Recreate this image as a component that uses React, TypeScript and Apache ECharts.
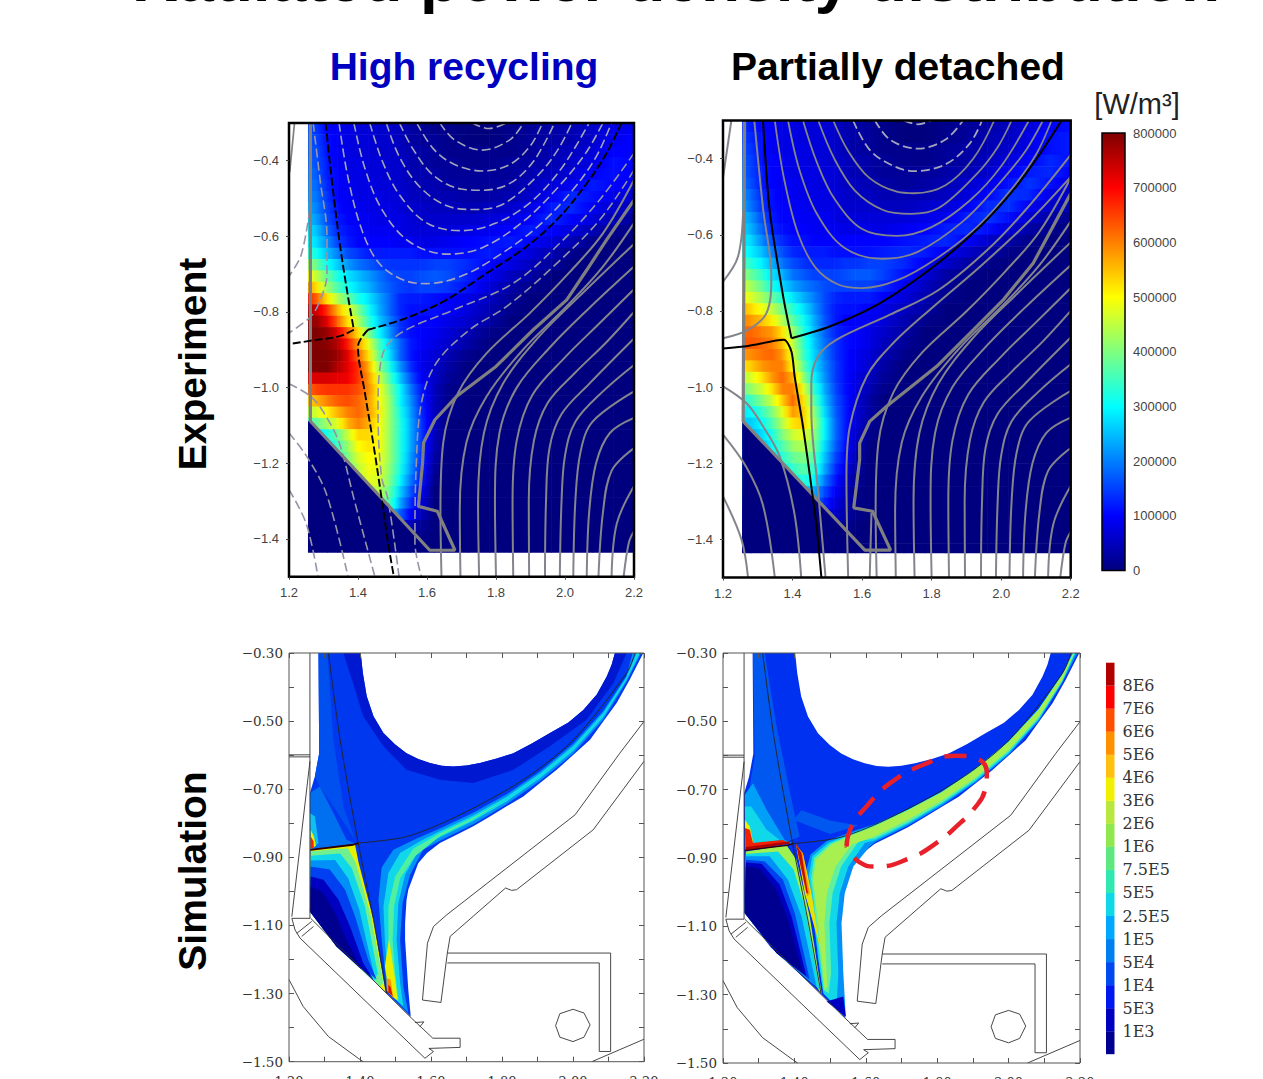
import React, { useEffect, useRef } from "react";
import * as echarts from "echarts";

type P = [number, number];
const Pn = (a: number[]): P[] => { const o: P[] = []; for (let i = 0; i < a.length; i += 2) o.push([a[i], a[i + 1]]); return o; };

// ---------- experiment heat maps (unit: 10 kW/m3) ----------
const expX = [1.255,1.28,1.31,1.34,1.37,1.40,1.43,1.46,1.49,1.52,1.55,1.58,1.62,1.66,1.72,1.78,1.84,1.90,1.96,2.02,2.08,2.14,2.2];
const expRowTops = [-0.30,-0.33,-0.36,-0.39,-0.42,-0.45,-0.48,-0.51,-0.54,-0.57,-0.60,-0.63,-0.66,-0.69,-0.72,-0.75,-0.78,-0.81,-0.84,-0.87,-0.90,-0.93,-0.96,-0.99,-1.02,-1.05,-1.08,-1.11,-1.14,-1.17,-1.20,-1.23,-1.26,-1.29,-1.32,-1.35,-1.38,-1.41];
const expHighRows = [
[16,14,10,9,8,7,7,6,6,5,3,2,1,1,0,0,1,2,3,4,6,8,9],
[17,15,11,9,8,7,7,6,6,5,3,2,2,1,0,0,1,2,3,4,6,9,10],
[17,16,11,9,8,7,7,6,6,5,4,3,2,1,1,1,1,2,4,5,7,10,10],
[18,16,12,9,8,8,7,7,6,6,4,3,2,2,1,1,2,3,4,6,8,11,10],
[19,17,12,10,8,8,7,7,6,6,4,4,3,2,2,2,2,4,5,7,10,11,9],
[20,18,13,10,9,8,8,7,7,6,5,4,4,3,2,2,3,5,7,9,12,10,8],
[21,19,14,10,9,8,8,8,7,7,5,5,4,4,3,3,4,6,9,13,11,8,6],
[23,20,15,11,9,9,8,8,8,7,6,6,5,5,4,5,6,8,12,13,9,6,4],
[25,22,16,12,10,9,9,8,8,8,7,6,6,6,6,7,8,10,13,10,7,4,2],
[28,25,18,13,11,10,9,9,9,8,7,7,7,7,8,9,10,12,10,7,4,1,1],
[30,27,21,15,12,10,10,10,10,9,9,8,8,9,10,11,12,10,7,4,1],
[34,31,25,20,16,14,12,12,12,12,12,11,11,11,11,12,10,7,4,1],
[42,38,31,26,22,19,17,15,14,14,14,14,15,15,13,10,8,5,2],
[50,45,38,32,28,25,22,19,16,15,15,16,17,16,12,9,5,3],
[58,52,42,36,31,27,24,20,17,15,14,15,15,14,11,7,3,1],
[68,62,52,44,38,32,28,23,18,13,12,12,11,10,8,5,2],
[76,74,66,56,48,40,31,24,18,13,11,11,11,10,7,4,1],
[78,78,72,62,52,44,34,26,20,14,11,10,10,8,6,3],
[80,80,78,72,62,52,40,30,22,14,11,10,9,7,4,1],
[79,80,79,76,68,58,48,36,26,18,12,10,8,6,3],
[80,80,80,78,72,62,52,38,28,18,12,9,7,4,1],
[80,80,80,76,72,66,56,42,32,22,14,9,6,3],
[72,73,73,72,71,66,58,47,36,26,17,10,6,2],
[62,65,66,66,66,64,59,50,40,30,20,12,5,1],
[54,56,60,63,64,62,58,50,42,30,22,13,5,1],
[44,47,51,56,60,62,58,51,42,32,23,14,5,1],
[36,38,43,48,56,60,56,50,42,33,24,15,5],
[27,27,32,38,46,53,53,50,42,33,24,15,5],
[28,28,28,35,42,50,52,50,42,33,24,15,4],
[33,33,33,33,40,47,50,49,42,33,23,14,3],
[38,38,38,38,38,45,49,48,41,32,22,13,2],
[44,44,44,44,44,44,48,47,40,30,20,12,1],
[44,44,44,44,44,44,44,45,38,27,17,10],
[42,42,42,42,42,42,42,42,36,24,14,8],
[28,28,28,28,28,28,28,28,28,18,10,5],
[8,8,8,8,8,8,8,8,8,8,5,2],
[0,0,0,0,0,0,0,0,0,0,2,1],
[],
];
const expDetachedRows = [
[14,12,10,9,8,8,7,7,7,6,4,3,2,1,0,0,1,2,3,5,7,10,11],
[15,13,11,9,8,8,7,7,7,6,4,3,2,1,0,0,1,2,4,5,8,11,12],
[16,14,11,9,8,8,8,7,7,6,4,3,2,1,1,1,2,3,4,6,8,11,12],
[17,15,11,10,9,8,8,7,7,6,5,4,3,2,1,1,2,3,5,7,10,13,11],
[18,15,12,10,9,8,8,8,7,7,5,4,3,2,2,2,3,4,6,9,12,13,9],
[19,16,12,10,9,9,8,8,7,7,5,5,4,3,2,3,4,6,8,11,14,11,7],
[21,18,13,11,9,9,8,8,8,7,6,5,5,4,4,4,5,7,10,14,13,8,5],
[23,19,14,11,10,9,9,8,8,8,6,6,6,5,5,6,7,9,13,14,9,6,3],
[25,22,16,12,10,10,9,9,9,8,7,7,7,7,7,8,9,12,14,11,6,3,1],
[27,24,18,13,11,10,10,9,9,9,8,8,8,8,9,10,12,13,11,7,3,1],
[29,27,21,16,13,11,11,10,10,10,10,10,10,10,11,12,13,10,6,3,1],
[31,29,25,20,16,13,12,12,12,11,11,11,11,12,13,12,9,6,3,1],
[36,33,29,24,19,16,14,13,13,13,14,14,15,15,13,9,6,3,1],
[42,38,34,28,24,19,17,15,15,15,16,17,17,15,11,7,3,1],
[46,43,38,32,27,23,20,18,16,15,15,15,15,13,9,5,2],
[50,47,43,38,33,28,24,20,16,13,12,12,12,10,7,4,1],
[56,53,49,45,39,33,28,22,16,12,11,11,10,8,5,3],
[60,58,55,51,44,37,31,24,17,12,10,10,9,7,4,1],
[62,62,60,58,52,42,33,25,18,13,11,10,8,6,3],
[63,63,62,60,55,45,34,26,19,14,11,10,8,5,2],
[58,59,61,62,58,47,35,27,20,14,11,9,7,4,1],
[52,54,58,60,60,50,38,28,21,15,11,9,6,3],
[44,47,52,58,62,56,42,30,22,15,11,8,5,2],
[38,42,46,52,60,60,48,34,24,16,11,8,4,1],
[32,35,40,46,54,62,52,38,26,17,12,7,3],
[28,30,34,40,48,58,54,42,28,18,12,7,3],
[26,26,30,36,44,52,54,44,30,19,12,7,2],
[24,24,27,32,40,46,48,42,30,19,12,6,1],
[24,24,24,30,36,42,44,40,28,18,11,5],
[27,27,27,27,33,38,40,37,26,16,10,4],
[30,30,30,30,30,34,37,34,24,14,8,3],
[30,30,30,30,30,30,33,30,20,12,6,2],
[25,25,25,25,25,25,25,24,16,10,5,1],
[20,20,20,20,20,20,20,20,13,8,4,1],
[10,10,10,10,10,10,10,10,10,6,3,1],
[4,4,4,4,4,4,4,4,4,4,2],
[],
[],
];
const jetStops = ["#00007f","#0000ff","#007fff","#00ffff","#7fff7f","#ffff00","#ff7f00","#ff0000","#7f0000"];
const highFloor = [1.255,-1.089,1.262,-1.089,1.608,-1.43,1.608,-1.435,1.255,-1.435];
const detFloor = [1.255,-1.09,1.258,-1.09,1.608,-1.428,1.608,-1.435,1.255,-1.435];

// ---------- flux contours, shared lower-right family ----------
const lowerCurves: number[][] = [
[1.642,-1.5,1.639,-1.323,1.647,-1.146,1.69,-1.014,1.773,-0.909,1.898,-0.803,2.01,-0.698,2.11,-0.592,2.2,-0.451],
[1.697,-1.5,1.695,-1.323,1.714,-1.146,1.773,-1.023,1.879,-0.899,2.005,-0.785,2.11,-0.68,2.2,-0.565],
[1.751,-1.5,1.748,-1.3,1.765,-1.12,1.82,-0.99,1.92,-0.87,2.04,-0.76,2.2,-0.62],
[1.8,-1.5,1.797,-1.3,1.81,-1.12,1.86,-1.0,1.96,-0.89,2.07,-0.79,2.2,-0.68],
[1.85,-1.5,1.848,-1.3,1.86,-1.14,1.905,-1.02,2.0,-0.92,2.1,-0.83,2.2,-0.74],
[1.896,-1.5,1.895,-1.3,1.91,-1.14,1.95,-1.04,2.03,-0.96,2.12,-0.88,2.2,-0.80],
[1.942,-1.5,1.945,-1.3,1.955,-1.16,1.99,-1.07,2.07,-0.99,2.2,-0.87],
[1.985,-1.5,1.99,-1.3,2.0,-1.18,2.03,-1.09,2.11,-1.01,2.2,-0.94],
[2.024,-1.5,2.03,-1.3,2.045,-1.17,2.08,-1.09,2.2,-1.01],
[2.063,-1.5,2.07,-1.33,2.09,-1.2,2.13,-1.12,2.2,-1.08],
[2.097,-1.5,2.11,-1.33,2.135,-1.22,2.2,-1.16],
[2.135,-1.5,2.15,-1.36,2.2,-1.26],
[2.17,-1.5,2.185,-1.41,2.2,-1.38],
];
// panel A (high recycling)
const highU: number[][] = [
[1.73,-0.3,1.78,-0.315,1.83,-0.3],
[1.637,-0.3,1.68,-0.345,1.76,-0.372,1.84,-0.345,1.88,-0.3],
[1.57,-0.3,1.62,-0.37,1.68,-0.41,1.76,-0.427,1.84,-0.41,1.90,-0.36,1.935,-0.3],
[1.52,-0.3,1.56,-0.37,1.62,-0.44,1.70,-0.475,1.76,-0.478,1.84,-0.46,1.91,-0.40,1.97,-0.30],
[1.482,-0.3,1.52,-0.39,1.58,-0.47,1.66,-0.52,1.74,-0.529,1.82,-0.515,1.92,-0.44,1.98,-0.37,2.02,-0.3],
[1.434,-0.3,1.47,-0.40,1.52,-0.49,1.60,-0.565,1.70,-0.585,1.80,-0.565,1.90,-0.51,1.99,-0.42,2.07,-0.3],
[1.388,-0.3,1.42,-0.42,1.47,-0.53,1.55,-0.615,1.66,-0.647,1.76,-0.63,1.88,-0.56,1.98,-0.47,2.06,-0.38,2.11,-0.3],
[1.345,-0.3,1.37,-0.44,1.41,-0.58,1.46,-0.67,1.53,-0.715,1.6,-0.725,1.70,-0.705,1.80,-0.655,1.92,-0.575,2.02,-0.48,2.09,-0.39,2.135,-0.3],
];
const highOuter: number[][] = [
[1.27,-0.3,1.29,-0.45,1.31,-0.6,1.31,-0.70,1.285,-0.78,1.26,-0.815,1.2,-0.855],
[1.26,-0.53,1.235,-0.65,1.2,-0.705],
[1.2,-0.99,1.265,-1.025,1.31,-1.08,1.347,-1.15,1.39,-1.3,1.449,-1.5],
[1.2,-1.12,1.25,-1.18,1.308,-1.28,1.371,-1.5],
[1.2,-1.27,1.25,-1.36,1.284,-1.5],
[2.2,-0.38,2.1,-0.504,1.985,-0.618,1.85,-0.724,1.676,-0.795,1.54,-0.847,1.482,-0.891,1.463,-0.953,1.458,-1.059,1.468,-1.235,1.487,-1.296,1.519,-1.5],
[2.2,-0.425,2.1,-0.557,1.966,-0.68,1.83,-0.786,1.724,-0.847,1.627,-0.935,1.584,-1.04,1.569,-1.2,1.565,-1.41,1.584,-1.5],
];
const highTopLeft = [1.216,-0.3,1.202,-0.43];
const highSep: number[][] = [
[1.306,-0.3,1.323,-0.442,1.347,-0.618,1.371,-0.759,1.388,-0.847],
[1.388,-0.847,1.347,-0.864,1.27,-0.875,1.2,-0.885],
[1.429,-0.847,1.4,-0.891,1.42,-1.014,1.444,-1.146,1.468,-1.29,1.487,-1.41,1.504,-1.5],
[1.429,-0.847,1.54,-0.816,1.656,-0.768,1.772,-0.698,1.889,-0.627,1.985,-0.548,2.063,-0.46,2.12,-0.381,2.164,-0.3],
];
const highWall = [2.2,-0.504,2.12,-0.61,2.063,-0.689,2.005,-0.768,1.908,-0.847,1.8,-0.944,1.686,-1.023,1.623,-1.085,1.59,-1.146,1.587,-1.2,1.575,-1.314,1.63,-1.327,1.681,-1.43,1.608,-1.43,1.262,-1.089,1.262,-0.3];
// panel B (partially detached)
const detU: number[][] = [
[1.72,-0.3,1.76,-0.31,1.8,-0.3],
[1.637,-0.3,1.68,-0.35,1.76,-0.374,1.84,-0.35,1.89,-0.3],
[1.574,-0.3,1.62,-0.375,1.68,-0.415,1.75,-0.433,1.84,-0.415,1.91,-0.36,1.945,-0.3],
[1.517,-0.3,1.56,-0.38,1.62,-0.45,1.70,-0.487,1.75,-0.491,1.84,-0.47,1.92,-0.40,1.98,-0.30],
[1.474,-0.3,1.52,-0.40,1.58,-0.485,1.66,-0.535,1.74,-0.545,1.82,-0.53,1.93,-0.44,1.99,-0.37,2.03,-0.3],
[1.43,-0.3,1.47,-0.41,1.52,-0.505,1.60,-0.585,1.70,-0.603,1.80,-0.58,1.91,-0.51,2.0,-0.42,2.08,-0.3],
[1.387,-0.3,1.42,-0.43,1.47,-0.545,1.55,-0.635,1.66,-0.663,1.76,-0.645,1.89,-0.565,1.99,-0.47,2.07,-0.38,2.12,-0.3],
[1.349,-0.3,1.375,-0.45,1.415,-0.595,1.465,-0.685,1.53,-0.73,1.6,-0.74,1.70,-0.72,1.81,-0.665,1.93,-0.58,2.03,-0.48,2.10,-0.39,2.145,-0.3],
];
const detOuter: number[][] = [
[1.29,-0.3,1.315,-0.53,1.339,-0.71,1.325,-0.806,1.272,-0.85,1.2,-0.872],
[1.224,-0.3,1.2,-0.45],
[1.258,-0.535,1.243,-0.658,1.2,-0.723],
[1.2,-0.998,1.267,-1.042,1.315,-1.103,1.363,-1.182,1.405,-1.33,1.425,-1.5],
[1.2,-1.125,1.267,-1.21,1.315,-1.31,1.349,-1.5],
[1.2,-1.287,1.253,-1.4,1.272,-1.5],
[2.2,-0.39,2.07,-0.535,1.96,-0.64,1.82,-0.745,1.68,-0.81,1.526,-0.876,1.473,-0.92,1.454,-0.99,1.454,-1.06,1.474,-1.278,1.495,-1.5],
[2.2,-0.448,2.083,-0.562,1.939,-0.684,1.805,-0.789,1.689,-0.885,1.613,-0.972,1.565,-1.103,1.555,-1.234,1.56,-1.5],
[1.627,-1.33,1.622,-1.5],
];
const detSep: number[][] = [
[1.315,-0.3,1.334,-0.535,1.373,-0.762,1.397,-0.872],
[1.397,-0.872,1.507,-0.841,1.651,-0.78,1.805,-0.684,1.939,-0.579,2.035,-0.483,2.112,-0.387,2.174,-0.3],
[1.2,-0.899,1.272,-0.892,1.375,-0.876,1.397,-0.907,1.406,-0.972,1.43,-1.103,1.454,-1.26,1.469,-1.365,1.483,-1.5],
];
const detWall = [2.2,-0.492,2.092,-0.675,2.006,-0.771,1.92,-0.85,1.814,-0.946,1.67,-1.051,1.622,-1.09,1.593,-1.147,1.593,-1.19,1.576,-1.317,1.63,-1.326,1.682,-1.428,1.608,-1.428,1.258,-1.09,1.262,-0.3];

// ---------- simulation: machine outline, separatrix, filled bands ----------
const simWalls: number[][] = [
[1.259,-0.3,1.259,-1.079],
[1.2,-0.599,1.259,-0.599],[1.2,-0.605,1.259,-0.605],
[1.259,-0.618,1.208,-1.074],
[1.208,-1.079,1.259,-1.079],
[1.208,-1.079,1.217,-1.113,1.231,-1.137,1.583,-1.49,1.607,-1.47,1.594,-1.461,1.682,-1.458,1.682,-1.431,1.605,-1.431,1.541,-1.368,1.261,-1.079],
[1.222,-1.123,1.264,-1.088],[1.236,-1.132,1.269,-1.103],
[2.2,-0.501,2.132,-0.594,2.006,-0.775,1.644,-1.069,1.607,-1.103,1.59,-1.152,1.576,-1.319,1.628,-1.326,1.646,-1.181,1.654,-1.132,1.81,-0.99,1.827,-0.997,1.841,-0.995,2.057,-0.819,2.2,-0.618],
[1.646,-1.181,2.106,-1.181,2.106,-1.47,2.074,-1.47,2.074,-1.21,1.646,-1.21],
[2.0,-1.346,2.031,-1.357,2.048,-1.392,2.031,-1.428,2.0,-1.441,1.963,-1.428,1.951,-1.394,1.963,-1.359,2.0,-1.346],
[1.2,-1.259,1.24,-1.338,1.311,-1.426,1.395,-1.49,1.409,-1.5],
[2.053,-1.5,2.2,-1.434],
[1.555,-1.385,1.58,-1.383,1.569,-1.397],
];
const simSep: number[][] = [
[1.311,-0.3,1.344,-0.555,1.395,-0.858,1.438,-1.083,1.475,-1.299],
[1.395,-0.858,1.531,-0.839,1.672,-0.78,1.86,-0.672,2.001,-0.555,2.151,-0.359,2.175,-0.3],
];
const simSepLeft = [1.261,-0.878,1.381,-0.863,1.395,-0.858];
const simOutline = [1.283,-0.3,1.402,-0.3,1.408,-0.359,1.419,-0.427,1.438,-0.486,1.466,-0.535,1.499,-0.569,1.531,-0.594,1.564,-0.611,1.597,-0.623,1.63,-0.631,1.663,-0.633,1.70,-0.63,1.738,-0.623,1.785,-0.61,1.832,-0.594,1.884,-0.566,1.935,-0.535,1.987,-0.504,2.029,-0.467,2.067,-0.422,2.095,-0.369,2.109,-0.334,2.118,-0.3,2.198,-0.3,2.16,-0.378,2.123,-0.447,2.085,-0.501,2.048,-0.555,2.001,-0.599,1.954,-0.643,1.907,-0.682,1.86,-0.721,1.813,-0.75,1.766,-0.78,1.719,-0.809,1.672,-0.834,1.625,-0.858,1.588,-0.888,1.564,-0.917,1.55,-0.956,1.536,-0.995,1.531,-1.025,1.527,-1.093,1.527,-1.142,1.536,-1.289,1.543,-1.368,1.456,-1.279,1.334,-1.162,1.259,-1.059,1.259,-0.711,1.273,-0.662,1.285,-0.594];
const dz = [1.334,-1.162,1.259,-1.059];
const simHighBands: [string, number[]][] = [
["#0038f0", simOutline],
["#0018d0", [1.402,-0.3,1.408,-0.359,1.419,-0.427,1.438,-0.486,1.466,-0.535,1.499,-0.569,1.531,-0.594,1.564,-0.611,1.597,-0.623,1.63,-0.631,1.663,-0.633,1.70,-0.63,1.738,-0.623,1.785,-0.61,1.832,-0.594,1.884,-0.566,1.935,-0.535,1.987,-0.504,2.029,-0.467,2.067,-0.422,2.095,-0.369,2.109,-0.334,2.118,-0.3,2.151,-0.3,2.114,-0.388,2.038,-0.496,1.935,-0.574,1.832,-0.643,1.719,-0.682,1.625,-0.672,1.531,-0.643,1.466,-0.574,1.409,-0.486,1.377,-0.378,1.353,-0.3]],
["#0050f0", [1.283,-0.3,1.308,-0.3,1.325,-0.555,1.353,-0.75,1.386,-0.848,1.325,-0.75,1.287,-0.692,1.273,-0.662,1.285,-0.594]],
["#0070f0", [1.259,-0.711,1.287,-0.692,1.325,-0.77,1.362,-0.848,1.386,-0.86,1.261,-0.876]],
["#10c0f0", [1.259,-0.77,1.273,-0.78,1.283,-0.858,1.261,-0.876]],
["#f0f000", [1.261,-0.819,1.27,-0.838,1.276,-0.866,1.261,-0.876]],
["#ff2000", [1.261,-0.838,1.269,-0.853,1.27,-0.87,1.261,-0.876]],
["#0090f8", [2.168,-0.3,2.15,-0.368,2.085,-0.47,2.0,-0.567,1.907,-0.648,1.813,-0.715,1.719,-0.769,1.625,-0.815,1.56,-0.845,1.494,-0.878,1.461,-0.93,1.452,-1.024,1.461,-1.142,1.475,-1.279,1.496,-1.313,1.536,-1.357,1.522,-1.279,1.513,-1.142,1.52,-1.034,1.541,-0.951,1.578,-0.878,1.625,-0.851,1.719,-0.803,1.813,-0.744,1.907,-0.676,2.0,-0.596,2.085,-0.496,2.15,-0.386,2.192,-0.3]],
["#10d8e8", [2.179,-0.3,2.15,-0.372,2.085,-0.476,2.0,-0.574,1.907,-0.654,1.813,-0.722,1.719,-0.777,1.625,-0.823,1.574,-0.85,1.513,-0.887,1.48,-0.946,1.466,-1.044,1.47,-1.142,1.48,-1.279,1.496,-1.313,1.522,-1.338,1.513,-1.269,1.503,-1.142,1.508,-1.034,1.527,-0.951,1.569,-0.873,1.625,-0.841,1.719,-0.793,1.813,-0.736,1.907,-0.668,2.0,-0.588,2.085,-0.489,2.15,-0.381,2.189,-0.3]],
["#50f0a0", [1.813,-0.729,1.719,-0.783,1.625,-0.829,1.55,-0.875,1.499,-0.956,1.48,-1.044,1.48,-1.142,1.485,-1.279,1.496,-1.313,1.508,-1.318,1.499,-1.24,1.492,-1.142,1.496,-1.044,1.513,-0.961,1.555,-0.897,1.625,-0.838,1.719,-0.789]],
["#e8f000", [1.47,-1.22,1.482,-1.299,1.496,-1.313,1.506,-1.32,1.499,-1.259,1.489,-1.19,1.482,-1.14]],
["#ff9000", [1.475,-1.255,1.486,-1.259,1.494,-1.313,1.475,-1.291]],
["#d81000", [1.48,-1.274,1.486,-1.281,1.492,-1.308,1.48,-1.296]],
["#e8f000", [1.261,-0.878,1.386,-0.863,1.396,-0.915,1.438,-1.083,1.472,-1.295,1.456,-1.279,...dz]],
["#70f090", [1.261,-0.882,1.366,-0.873,1.388,-0.915,1.431,-1.073,1.466,-1.269,1.456,-1.279,...dz]],
["#10d8e8", [1.261,-0.895,1.344,-0.889,1.377,-0.932,1.414,-1.044,1.45,-1.24,1.44,-1.264,...dz]],
["#0090f8", [1.261,-0.909,1.33,-0.908,1.367,-0.962,1.398,-1.054,1.44,-1.245,...dz]],
["#0040f0", [1.261,-0.927,1.315,-0.936,1.358,-0.995,1.386,-1.073,1.423,-1.201,1.447,-1.259,...dz]],
["#0000c0", [1.261,-0.956,1.297,-0.966,1.339,-1.024,1.372,-1.103,1.409,-1.21,1.438,-1.259,...dz]],
["#000090", [1.261,-0.985,1.297,-1.005,1.33,-1.064,1.362,-1.142,1.405,-1.23,...dz]],
];
const dd = [1.35,-1.178,1.261,-1.061];
const simDetBands: [string, number[]][] = [
["#0030f0", simOutline],
["#0058f0", [1.284,-0.3,1.317,-0.3,1.35,-0.515,1.396,-0.749,1.415,-0.837,1.373,-0.856,1.322,-0.768,1.275,-0.69,1.289,-0.603]],
["#0058f0", [1.396,-0.788,1.5,-0.83,1.58,-0.805,1.5,-0.79,1.42,-0.76]],
["#00a0f8", [1.261,-0.715,1.284,-0.681,1.322,-0.759,1.373,-0.847,1.396,-0.856,1.264,-0.876]],
["#10d8e8", [1.261,-0.749,1.279,-0.749,1.322,-0.817,1.359,-0.847,1.264,-0.876]],
["#e8f000", [1.261,-0.788,1.275,-0.808,1.284,-0.851,1.264,-0.876]],
["#f02000", [1.261,-0.812,1.275,-0.817,1.284,-0.856,1.368,-0.847,1.378,-0.854,1.264,-0.876]],
["#b00000", [1.264,-0.868,1.387,-0.851,1.387,-0.858,1.264,-0.878]],
["#0090f8", [2.178,-0.3,2.15,-0.362,2.085,-0.462,2.0,-0.558,1.907,-0.638,1.813,-0.705,1.719,-0.757,1.625,-0.801,1.574,-0.818,1.49,-0.85,1.445,-0.89,1.43,-0.95,1.443,-1.003,1.466,-1.188,1.481,-1.296,1.544,-1.364,1.537,-1.237,1.532,-1.091,1.541,-1.003,1.565,-0.925,1.611,-0.866,1.625,-0.854,1.719,-0.805,1.813,-0.747,1.907,-0.679,2.0,-0.598,2.085,-0.498,2.15,-0.388,2.193,-0.3]],
["#10d8e8", [2.18,-0.3,2.15,-0.363,2.085,-0.463,2.0,-0.559,1.907,-0.639,1.813,-0.706,1.719,-0.758,1.625,-0.803,1.574,-0.822,1.495,-0.855,1.45,-0.895,1.44,-0.955,1.448,-1.003,1.466,-1.188,1.481,-1.296,1.518,-1.335,1.523,-1.237,1.518,-1.091,1.527,-1.003,1.551,-0.925,1.597,-0.856,1.625,-0.849,1.719,-0.80,1.813,-0.742,1.907,-0.675,2.0,-0.594,2.085,-0.494,2.15,-0.385,2.188,-0.3]],
["#60f0a0", [2.181,-0.3,2.15,-0.364,2.085,-0.464,2.0,-0.56,1.907,-0.64,1.813,-0.707,1.719,-0.759,1.625,-0.805,1.574,-0.825,1.5,-0.858,1.455,-0.9,1.447,-0.96,1.452,-1.003,1.471,-1.188,1.482,-1.286,1.496,-1.296,1.503,-1.237,1.498,-1.091,1.507,-1.003,1.531,-0.925,1.58,-0.851,1.625,-0.843,1.719,-0.795,1.813,-0.738,1.907,-0.67,2.0,-0.589,2.085,-0.49,2.15,-0.382,2.185,-0.3]],
["#a8f050", [2.182,-0.3,2.15,-0.365,2.085,-0.465,2.0,-0.561,1.907,-0.641,1.813,-0.708,1.719,-0.76,1.625,-0.807,1.574,-0.828,1.505,-0.86,1.46,-0.905,1.452,-0.965,1.457,-1.003,1.476,-1.188,1.485,-1.286,1.492,-1.276,1.484,-1.091,1.491,-1.003,1.515,-0.925,1.56,-0.861,1.625,-0.836,1.719,-0.788,1.813,-0.732,1.907,-0.665,2.0,-0.584,2.085,-0.485,2.15,-0.379,2.184,-0.3]],
["#0000c0", [1.49,-1.32,1.537,-1.305,1.544,-1.364]],
["#a0f050", [1.264,-0.881,1.378,-0.863,1.406,-0.905,1.443,-1.071,1.477,-1.3,1.462,-1.276,...dd]],
["#10d8e8", [1.264,-0.888,1.354,-0.881,1.398,-0.934,1.429,-1.042,1.471,-1.286,1.462,-1.276,...dd]],
["#0090f8", [1.264,-0.895,1.331,-0.895,1.382,-0.964,1.42,-1.071,1.462,-1.276,...dd]],
["#0040f0", [1.264,-0.905,1.317,-0.91,1.368,-0.964,1.401,-1.061,1.443,-1.256,...dd]],
["#0000c0", [1.264,-0.913,1.308,-0.917,1.359,-0.978,1.392,-1.071,1.434,-1.247,...dd]],
["#000090", [1.264,-0.925,1.301,-0.93,1.35,-0.993,1.382,-1.081,1.424,-1.237,...dd]],
["#e8e000", [1.406,-0.866,1.424,-0.886,1.448,-1.003,1.476,-1.188,1.466,-1.139,1.429,-1.003]],
["#ff9000", [1.404,-0.858,1.423,-0.886,1.443,-1.003,1.436,-1.012,1.41,-0.895]],
["#c01000", [1.404,-0.858,1.42,-0.886,1.438,-1.003,1.434,-1.003,1.41,-0.886]],
];
const detEllipse = [1.546,-0.866,1.56,-0.808,1.602,-0.749,1.668,-0.681,1.761,-0.627,1.855,-0.601,1.906,-0.607,1.939,-0.651,1.934,-0.7,1.901,-0.759,1.864,-0.798,1.798,-0.856,1.724,-0.9,1.63,-0.925,1.583,-0.913,1.546,-0.866];

// ---------- colour bars and ticks ----------
const expBarTicks = [0,100000,200000,300000,400000,500000,600000,700000,800000];
const simLevelColors = ["#000090","#0000c0","#0018f0","#0048f0","#0080f0","#00a8ff","#10d8e8","#30e8b0","#60e880","#90e850","#b8e840","#f0f000","#ffc010","#ff9000","#ff5000","#ff0000","#b00000"];
const simLevelLabels = ["1E3","5E3","1E4","5E4","1E5","2.5E5","5E5","7.5E5","1E6","2E6","3E6","4E6","5E6","6E6","7E6","8E6"];
const expYTicks = [-1.4,-1.2,-1.0,-0.8,-0.6,-0.4];
const expXTicks = [1.2,1.4,1.6,1.8,2.0,2.2];

const hex = (c: string) => [1,3,5].map((i) => parseInt(c.slice(i, i + 2), 16));
function jet(v: number) {
  const t = Math.max(0, Math.min(1, v / 80)) * 8;
  const i = Math.min(7, Math.floor(t));
  const a = hex(jetStops[i]), b = hex(jetStops[i + 1]);
  return `rgb(${a.map((c, k) => Math.round(c + (b[k] - c) * (t - i))).join(",")})`;
}

export default function App() {
  const ref = useRef<HTMLDivElement>(null);
  useEffect(() => {
    const chart = echarts.init(ref.current!, undefined, { renderer: "svg" });
    const grids: any[] = [], xAxes: any[] = [], yAxes: any[] = [], series: any[] = [];
    const SANS = "Liberation Sans", SERIF = "DejaVu Serif";
    const expPanel = (left: number, top: number, width: number, height: number) => {
      const g = grids.length;
      grids.push({ left, top, width, height, z: 5, show: true, outerBoundsMode: "none", backgroundColor: "transparent", borderColor: "#000", borderWidth: 2.5 });
      xAxes.push({ gridIndex: g, type: "value", min: 1.2, max: 2.2, z: 6, axisLine: { show: false }, splitLine: { show: false },
        axisTick: { length: 3, customValues: expXTicks, lineStyle: { color: "#444" } },
        axisLabel: { customValues: expXTicks, margin: 9, color: "#444", fontFamily: SANS, fontSize: 13, formatter: (v: number) => v.toFixed(1) } });
      yAxes.push({ gridIndex: g, type: "value", min: -1.5, max: -0.3, z: 6, axisLine: { show: false }, splitLine: { show: false },
        axisTick: { length: 3, customValues: expYTicks, lineStyle: { color: "#444" } },
        axisLabel: { customValues: expYTicks, margin: 10, color: "#444", fontFamily: SANS, fontSize: 13, formatter: (v: number) => v.toFixed(1).replace("-", "\u2212") } });
      return { xAxisIndex: xAxes.length - 1, yAxisIndex: yAxes.length - 1 };
    };
    const simPanel = (left: number, top: number, width: number, height: number) => {
      const g = grids.length;
      grids.push({ left, top, width, height, z: 5, show: true, outerBoundsMode: "none", backgroundColor: "transparent", borderColor: "#555", borderWidth: 1 });
      const base = { gridIndex: g, type: "value", z: 6, interval: 0.1, axisLine: { show: false }, splitLine: { show: false },
        axisTick: { inside: true, length: 5, lineStyle: { color: "#555" } } };
      const xLbl = { margin: 13, color: "#333", fontFamily: SERIF, fontSize: 13, showMinLabel: true, showMaxLabel: true,
        formatter: (v: number) => (Math.round(v * 10) % 2 === 0 ? v.toFixed(2) : "") };
      const yLbl = { margin: 6, color: "#333", fontFamily: SERIF, fontSize: 13.5, showMinLabel: true, showMaxLabel: true,
        formatter: (v: number) => (Math.abs(Math.round(v * 10)) % 2 === 1 ? v.toFixed(2).replace("-", "\u2212") : "") };
      xAxes.push({ ...base, min: 1.2, max: 2.2, position: "bottom", axisLabel: xLbl });
      const xi = xAxes.length - 1;
      xAxes.push({ ...base, min: 1.2, max: 2.2, position: "top", axisLabel: { show: false } });
      yAxes.push({ ...base, min: -1.5, max: -0.3, position: "left", axisLabel: yLbl });
      const yi = yAxes.length - 1;
      yAxes.push({ ...base, min: -1.5, max: -0.3, position: "right", axisLabel: { show: false } });
      return { xAxisIndex: xi, yAxisIndex: yi };
    };
    const line = (ax: any, pts: number[], color: string, width: number, type: any = "solid", smooth: number | boolean = 0.35, z = 3) => {
      series.push({ ...ax, type: "line", data: Pn(pts), showSymbol: false, symbol: "none", smooth, clip: true, silent: true, z,
        lineStyle: { color, width, type, cap: "butt" } });
    };
    const heat = (ax: any, rows: number[][]) => {
      const cells: any[] = [];
      rows.forEach((row, r) => {
        const y0 = expRowTops[r], y1 = r + 1 < expRowTops.length ? expRowTops[r + 1] : -1.435;
        for (let c = 0; c + 1 < expX.length; c++) cells.push([expX[c], expX[c + 1], y0, y1, row[c] ?? 0, row[c + 1] ?? 0]);
      });
      series.push({ ...ax, type: "custom", data: cells.map((_, i) => [i]), clip: true, silent: true, z: 1,
        renderItem: (p: any, api: any) => {
          const [x0, x1, y0, y1, v0, v1] = cells[p.dataIndex];
          const a = api.coord([x0, y0]), b = api.coord([x1, y1]);
          return { type: "rect", shape: { x: a[0], y: a[1], width: b[0] - a[0] + 0.6, height: b[1] - a[1] + 0.6 },
            style: { fill: v0 === v1 ? jet(v0) : new echarts.graphic.LinearGradient(0, 0, 1, 0, [
              { offset: 0, color: jet(v0) }, { offset: 0.5, color: jet((v0 + v1) / 2) }, { offset: 1, color: jet(v1) }]) } };
        } });
    };
    const bands = (ax: any, list: [string, number[]][]) => {
      series.push({ ...ax, type: "custom", data: list.map((_, i) => [i]), clip: true, silent: true, z: 1,
        renderItem: (p: any, api: any) => {
          const [color, pts] = list[p.dataIndex];
          return { type: "polygon", shape: { points: Pn(pts).map((q) => api.coord(q)) }, style: { fill: color } };
        } });
    };

    // Experiment, high recycling
    const A = expPanel(289, 122.9, 345, 453.8);
    heat(A, expHighRows);
    bands(A, [["#00007f", highFloor]]);
    lowerCurves.forEach((c) => line(A, c, "#84848c", 2));
    highU.forEach((c) => line(A, c, "#a4a4bc", 1.6, [9, 4]));
    highOuter.forEach((c) => line(A, c, "#9494a8", 1.6, [9, 4]));
    line(A, highTopLeft, "#808080", 1.7);
    line(A, highWall, "#808080", 3.2, "solid", false, 4);
    highSep.forEach((c) => line(A, c, "#000", 1.9, [8, 3], 0.35, 5));
    // Experiment, partially detached
    const B = expPanel(723, 120.5, 347.7, 457);
    heat(B, expDetachedRows);
    bands(B, [["#00007f", detFloor]]);
    lowerCurves.forEach((c) => line(B, c, "#84848c", 2));
    detU.forEach((c, i) => line(B, c, i < 3 ? "#a4a4bc" : "#84848c", 1.8, i < 3 ? [9, 4] : "solid"));
    detOuter.forEach((c) => line(B, c, "#84848c", 2));
    line(B, detWall, "#808080", 3.2, "solid", false, 4);
    detSep.forEach((c) => line(B, c, "#000", 2, "solid", 0.25, 5));
    // Simulation panels
    const C = simPanel(289, 653, 355, 408.7);
    bands(C, simHighBands);
    simWalls.forEach((c) => line(C, c, "#333", 0.9, "solid", false));
    simSep.forEach((c) => line(C, c, "#222", 0.9, "solid", 0.3));
    line(C, simSepLeft, "#300", 1.8, "solid", false);
    const D = simPanel(723, 653, 357, 410);
    bands(D, simDetBands);
    simWalls.forEach((c) => line(D, c, "#333", 0.9, "solid", false));
    simSep.forEach((c) => line(D, c, "#222", 0.9, "solid", 0.3));
    line(D, simSepLeft, "#300", 1.2, "solid", false);
    line(D, detEllipse, "#e8202a", 4.5, [22, 13], 0.5, 6);

    // Experiment colour bar
    const g1 = grids.length;
    grids.push({ left: 1102, top: 133, width: 23, height: 437.5, z: 5, show: true, outerBoundsMode: "none", backgroundColor: "transparent", borderColor: "#000", borderWidth: 1.5 });
    xAxes.push({ gridIndex: g1, type: "category", data: ["W/m3"], show: false });
    yAxes.push({ gridIndex: g1, type: "value", min: 0, max: 800000, interval: 100000, position: "right", z: 6, axisLine: { show: false }, splitLine: { show: false },
      axisTick: { length: 3, lineStyle: { color: "#333" } },
      axisLabel: { margin: 8, color: "#444", fontFamily: SANS, fontSize: 13, showMinLabel: true, showMaxLabel: true, formatter: (v: number) => (expBarTicks.includes(v) ? String(v) : "") } });
    series.push({ type: "bar", xAxisIndex: xAxes.length - 1, yAxisIndex: yAxes.length - 1, data: [800000], barWidth: "100%", silent: true,
      itemStyle: { color: new echarts.graphic.LinearGradient(0, 0, 0, 1, [...jetStops].reverse().map((c, i) => ({ offset: i / 8, color: c }))) } });
    // Simulation colour bar
    const g2 = grids.length;
    grids.push({ left: 1106, top: 662.7, width: 8.5, height: 391.5, outerBoundsMode: "none" });
    xAxes.push({ gridIndex: g2, type: "category", data: ["level"], show: false });
    yAxes.push({ gridIndex: g2, type: "value", min: 0, max: simLevelColors.length, interval: 1, position: "right", axisLine: { show: false }, axisTick: { show: false }, splitLine: { show: false },
      axisLabel: { margin: 8, color: "#333", fontFamily: SERIF, fontSize: 16, formatter: (v: number) => simLevelLabels[v - 1] ?? "" } });
    simLevelColors.forEach((c) => series.push({ type: "bar", stack: "lv", xAxisIndex: xAxes.length - 1, yAxisIndex: yAxes.length - 1, data: [1], barWidth: "100%", silent: true, itemStyle: { color: c } }));

    const txt = (text: string, x: number, y: number, font: string, fill: string, rotation = 0, textAlign = "center") => ({
      type: "text", x, y, rotation, z: 20, style: { text, x: 0, y: 0, font, fill, textAlign, textVerticalAlign: "middle" } });
    const B39 = `bold 39px "${SANS}"`;
    chart.setOption({
      animation: false,
      backgroundColor: "#fff",
      grid: grids, xAxis: xAxes, yAxis: yAxes, series,
      graphic: [
        txt("Radiated power density distribution", 676, -21, `bold 64px "${SANS}"`, "#000"),
        txt("High recycling", 464, 66, B39, "#0000c0"),
        txt("Partially detached", 898, 66, B39, "#000"),
        txt("Experiment", 192, 364, B39, "#000", Math.PI / 2),
        txt("Simulation", 192, 871, B39, "#000", Math.PI / 2),
        txt("[W/m\u00b3]", 1137, 104, `29px "${SANS}"`, "#222"),
      ],
    });
    return () => chart.dispose();
  }, []);
  return <div ref={ref} style={{ position: "fixed", left: 0, top: 0, width: 1263, height: 1079 }} />;
}
